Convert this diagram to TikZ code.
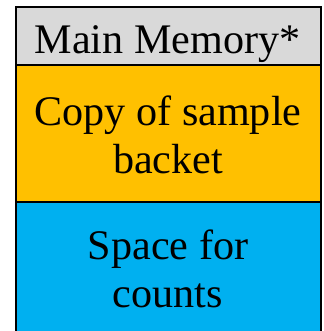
\documentclass[tikz,border=0pt]{standalone}
\usepackage{fontspec}
\setmainfont{Liberation Serif}
\definecolor{hdrgray}{HTML}{D9D9D9}
\definecolor{memorange}{HTML}{FFC000}
\definecolor{memblue}{HTML}{00B0F0}
\tikzset{
  seclabel/.style={anchor=base, align=center, inner sep=0pt,
    font=\fontsize{42.3}{48}\selectfont},
  frame/.style={line width=2.5bp, black}
}
\begin{document}
\begin{tikzpicture}[x=1bp, y=-1bp]
  \useasboundingbox (0,0) rectangle (324,331);
  \clip (0,0) rectangle (324,331);
  % memory sections, top to bottom
  \fill[hdrgray]   (16,7)   rectangle (321,65);
  \fill[memorange] (16,65)  rectangle (321,202);
  \fill[memblue]   (16,202) rectangle (321,340);
  % outline and dividers
  \draw[frame] (16,340) -- (16,7) -- (321,7) -- (321,340);
  \draw[frame] (16,65) -- (321,65);
  \draw[frame] (16,202) -- (321,202);
  % labels (base anchor sits on the last line of a wrapped label)
  \node[seclabel] (title) at (167.5,53) {Main Memory*};
  \node[seclabel] (sample) at (168,173) {Copy of sample\\backet};
  \node[seclabel] (counts) at (168,307) {Space for\\counts};
\end{tikzpicture}
\end{document}
